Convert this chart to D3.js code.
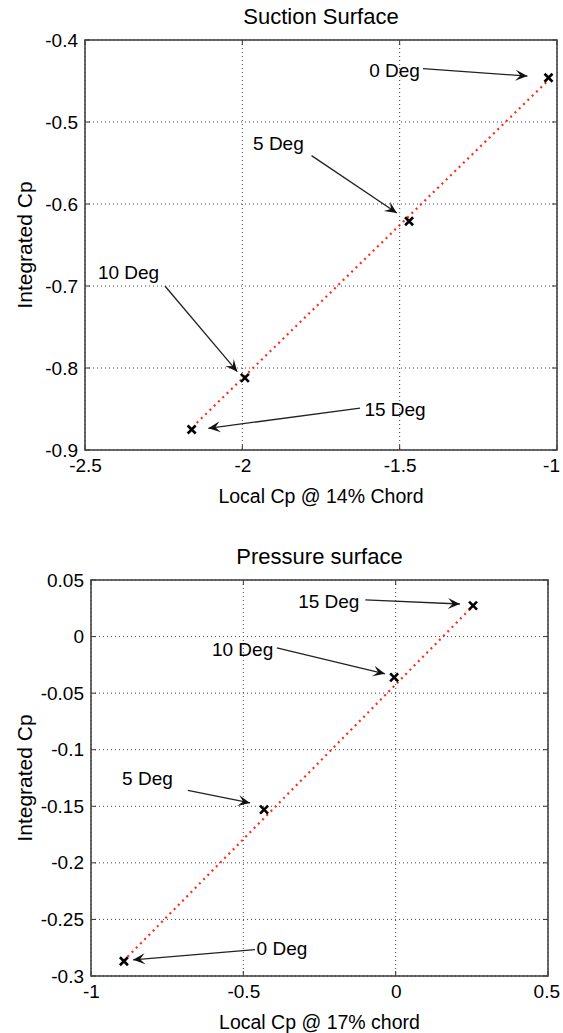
<!DOCTYPE html>
<html>
<head>
<meta charset="utf-8">
<script src="https://cdn.jsdelivr.net/npm/d3@7"></script>
<style>
  body { margin: 0; background: #fff; }
  svg { display: block; font-family: "Liberation Sans", Arial, Helvetica, sans-serif; }
</style>
</head>
<body>
<script>
// ---- data ----
var degLabels = ['0 Deg', '5 Deg', '10 Deg', '15 Deg']

// suction surface
var sucX = [-1.027, -1.470, -1.992, -2.161]
var sucY = [-0.446, -0.621, -0.812, -0.875]
var sucFitX = [-2.145, -1.030]
var sucFitY = [-0.867, -0.450]
var sucXTicks = [-2.5, -2, -1.5, -1]
var sucXTickLabels = ['-2.5', '-2', '-1.5', '-1']
var sucYTicks = [-0.4, -0.5, -0.6, -0.7, -0.8, -0.9]
var sucYTickLabels = ['-0.4', '-0.5', '-0.6', '-0.7', '-0.8', '-0.9']
// annotation text anchor / arrow tail / arrow tip, in data units
var sucTextX = [-1.597, -1.966, -2.459, -1.612]
var sucTextY = [-0.4367, -0.5265, -0.683, -0.850]
var sucTailX = [-1.426, -1.780, -2.246, -1.626]
var sucTailY = [-0.435, -0.541, -0.700, -0.849]
var sucTipX = [-1.094, -1.509, -2.016, -2.108]
var sucTipY = [-0.444, -0.611, -0.8045, -0.8735]

// pressure surface
var preX = [-0.892, -0.432, -0.005, 0.254]
var preY = [-0.287, -0.153, -0.036, 0.0274]
var preFitX = [-0.880, 0.250]
var preFitY = [-0.283, 0.026]
var preXTicks = [-1, -0.5, 0, 0.5]
var preXTickLabels = ['-1', '-0.5', '0', '0.5']
var preYTicks = [0.05, 0, -0.05, -0.1, -0.15, -0.2, -0.25, -0.3]
var preYTickLabels = ['0.05', '0', '-0.05', '-0.1', '-0.15', '-0.2', '-0.25', '-0.3']
var preTextX = [-0.4565, -0.898, -0.603, -0.320]
var preTextY = [-0.2757, -0.125, -0.0109, 0.0309]
var preTailX = [-0.462, -0.682, -0.390, -0.0995]
var preTailY = [-0.2766, -0.136, -0.010, 0.0324]
var preTipX = [-0.862, -0.478, -0.035, 0.2108]
var preTipY = [-0.2857, -0.147, -0.0329, 0.0288]

var width = 563
var height = 1033

var svg = d3.select('body').append('svg')
    .attr('width', width)
    .attr('height', height)

var panels = [
    {
        title: 'Suction Surface', xlabel: 'Local Cp @ 14% Chord', ylabel: 'Integrated Cp',
        box: [85, 557, 40, 450], xdom: [-2.5, -1], ydom: [-0.9, -0.4],
        x: sucX, y: sucY, fitX: sucFitX, fitY: sucFitY,
        xt: sucXTicks, xtl: sucXTickLabels, yt: sucYTicks, ytl: sucYTickLabels,
        tx: sucTextX, ty: sucTextY, ax: sucTailX, ay: sucTailY, bx: sucTipX, by: sucTipY
    },
    {
        title: 'Pressure surface', xlabel: 'Local Cp @ 17% chord', ylabel: 'Integrated Cp',
        box: [91, 548, 580, 976], xdom: [-1, 0.5], ydom: [-0.3, 0.05],
        x: preX, y: preY, fitX: preFitX, fitY: preFitY,
        xt: preXTicks, xtl: preXTickLabels, yt: preYTicks, ytl: preYTickLabels,
        tx: preTextX, ty: preTextY, ax: preTailX, ay: preTailY, bx: preTipX, by: preTipY
    }
]

panels.forEach(function(p) {
    var x = d3.scaleLinear().domain(p.xdom).range([p.box[0], p.box[1]])
    var y = d3.scaleLinear().domain(p.ydom).range([p.box[3], p.box[2]])
    var g = svg.append('g')

    // grid
    g.selectAll('.vgrid').data(p.xt).enter().append('line')
        .attr('x1', x).attr('x2', x)
        .attr('y1', p.box[2]).attr('y2', p.box[3])
        .style('stroke', '#444').style('stroke-width', 1)
        .style('stroke-dasharray', '1,3')
    g.selectAll('.hgrid').data(p.yt).enter().append('line')
        .attr('y1', y).attr('y2', y)
        .attr('x1', p.box[0]).attr('x2', p.box[1])
        .style('stroke', '#444').style('stroke-width', 1)
        .style('stroke-dasharray', '1,3')

    // inner ticks on all four sides
    var tk = 5
    p.xt.forEach(function(v) {
        g.append('line').attr('x1', x(v)).attr('x2', x(v)).attr('y1', p.box[3]).attr('y2', p.box[3] - tk)
            .style('stroke', '#333')
        g.append('line').attr('x1', x(v)).attr('x2', x(v)).attr('y1', p.box[2]).attr('y2', p.box[2] + tk)
            .style('stroke', '#333')
    })
    p.yt.forEach(function(v) {
        g.append('line').attr('y1', y(v)).attr('y2', y(v)).attr('x1', p.box[0]).attr('x2', p.box[0] + tk)
            .style('stroke', '#333')
        g.append('line').attr('y1', y(v)).attr('y2', y(v)).attr('x1', p.box[1]).attr('x2', p.box[1] - tk)
            .style('stroke', '#333')
    })

    // box
    g.append('rect')
        .attr('x', p.box[0]).attr('y', p.box[2])
        .attr('width', p.box[1] - p.box[0]).attr('height', p.box[3] - p.box[2])
        .style('fill', 'none').style('stroke', '#444').style('stroke-width', 1.6)

    // tick labels through d3 axes
    var xAxis = d3.axisBottom(x).tickValues(p.xt)
        .tickFormat(function(d, i) { return p.xtl[i] })
        .tickSize(0).tickPadding(9)
    var gx = g.append('g').attr('transform', 'translate(0,' + p.box[3] + ')').call(xAxis)
    var yAxis = d3.axisLeft(y).tickValues(p.yt)
        .tickFormat(function(d, i) { return p.ytl[i] })
        .tickSize(0).tickPadding(7)
    var gy = g.append('g').attr('transform', 'translate(' + p.box[0] + ',0)').call(yAxis)
    ;[gx, gy].forEach(function(a) {
        a.select('.domain').remove()
        a.selectAll('text')
            .style('font-family', '"Liberation Sans", Arial, sans-serif')
            .style('font-size', '19px').style('fill', '#000')
    })
    // keep the last x label inside the page, like the reference
    gx.selectAll('text').each(function() {
        var b = this.getBBox()
        var tx = this.parentNode.transform.baseVal.consolidate().matrix.e
        var over = tx + b.x + b.width - (width - 3)
        if (over > 0) d3.select(this).attr('x', -over)
    })

    // titles / labels
    var cx = (p.box[0] + p.box[1]) / 2
    var cy = (p.box[2] + p.box[3]) / 2
    g.append('text').attr('x', cx).attr('y', p.box[2] - 16)
        .attr('text-anchor', 'middle').style('font-size', '22px').style('fill', '#000')
        .text(p.title)
    g.append('text').attr('x', cx).attr('y', p.box[3] + 53)
        .attr('text-anchor', 'middle').style('font-size', '19.5px').style('fill', '#000')
        .text(p.xlabel)
    g.append('text')
        .attr('transform', 'translate(32,' + cy + ') rotate(-90)')
        .attr('text-anchor', 'middle').style('font-size', '21px').style('fill', '#000')
        .text(p.ylabel)

    // red dotted fit line
    var line = d3.line().x(function(d) { return x(d[0]) }).y(function(d) { return y(d[1]) })
    g.append('path')
        .datum(d3.zip(p.fitX, p.fitY))
        .attr('d', line)
        .style('fill', 'none').style('stroke', '#ff2a1a').style('stroke-width', 2.2)
        .style('stroke-dasharray', '2,4')

    // x markers
    var m = 4
    d3.zip(p.x, p.y).forEach(function(d) {
        var px = x(d[0]), py = y(d[1])
        g.append('path')
            .attr('d', 'M' + (px - m) + ',' + (py - m) + 'L' + (px + m) + ',' + (py + m) +
                'M' + (px - m) + ',' + (py + m) + 'L' + (px + m) + ',' + (py - m))
            .style('stroke', '#000').style('stroke-width', 2.6)
    })

    // annotations
    degLabels.forEach(function(lab, i) {
        var x1 = x(p.ax[i]), y1 = y(p.ay[i]), x2 = x(p.bx[i]), y2 = y(p.by[i])
        var ang = Math.atan2(y2 - y1, x2 - x1) * 180 / Math.PI
        g.append('line')
            .attr('x1', x1).attr('y1', y1).attr('x2', x2).attr('y2', y2)
            .style('stroke', '#222').style('stroke-width', 1.3)
        g.append('path')
            .attr('d', 'M0,0L-12,-5.5L-7,0L-12,5.5Z')
            .attr('transform', 'translate(' + x2 + ',' + y2 + ') rotate(' + ang + ')')
            .style('fill', '#111')
        g.append('text')
            .attr('x', x(p.tx[i])).attr('y', y(p.ty[i]))
            .attr('dy', '0.35em')
            .style('font-size', '19px').style('fill', '#000')
            .text(lab)
    })
})
</script>
</body>
</html>
